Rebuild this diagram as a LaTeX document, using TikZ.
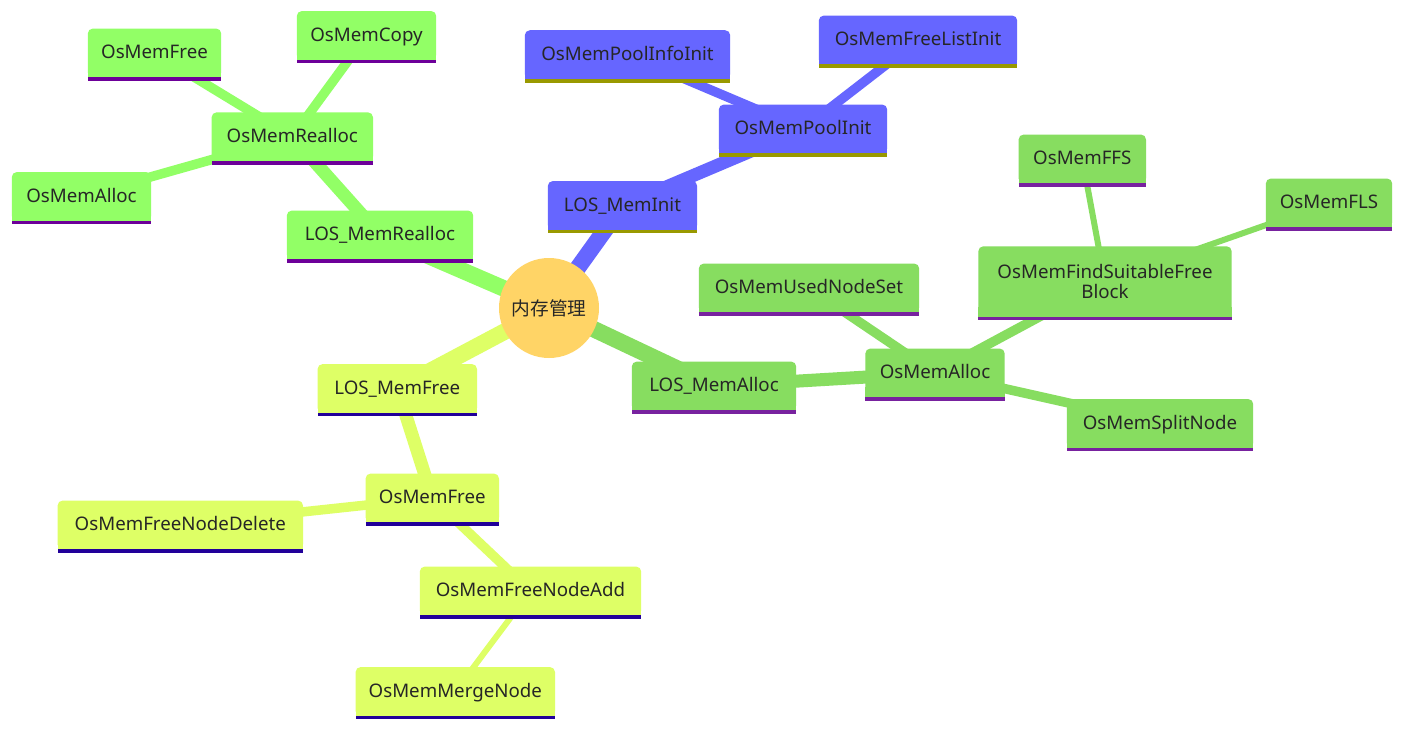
\documentclass[tikz,border=0pt]{standalone}
\usepackage{fontspec}
\setmainfont{Noto Sans}
\newfontfamily\cjkfont{Noto Sans CJK SC}
\definecolor{cBlue}{HTML}{6666FF}
\definecolor{bBlue}{HTML}{999900}
\definecolor{cLG}{HTML}{92FF66}
\definecolor{bLG}{HTML}{6D0099}
\definecolor{cDG}{HTML}{87DD60}
\definecolor{bDG}{HTML}{78229F}
\definecolor{cY}{HTML}{DEFF66}
\definecolor{bY}{HTML}{210099}
\definecolor{cRoot}{HTML}{FFD466}
\definecolor{txt}{HTML}{262626}
\pgfdeclarelayer{bglayer}
\pgfdeclarelayer{edgelayer}
\pgfdeclarelayer{filllayer}
\pgfsetlayers{bglayer,edgelayer,filllayer,main}
\newcommand\mmbox[3]{%
  \begin{pgfonlayer}{filllayer}
    \fill[#2, rounded corners=5pt] (#1.south west) rectangle (#1.north east);
    \fill[#2] (#1.south west) rectangle ([yshift=10pt]#1.south east);
    \fill[#3] (#1.south west) rectangle ([yshift=-3.5pt]#1.south east);
  \end{pgfonlayer}}
\tikzset{
  mm/.style={font=\fontsize{18.7}{20}\selectfont, text=txt, inner sep=0pt,
             align=center, text height=15pt, text depth=3.4pt, minimum height=48.5pt},
  mmtwo/.style={font=\fontsize{18.7}{19.5}\selectfont, text=txt, inner sep=0pt,
             align=center, minimum height=70pt},
  e1/.style={line width=16.5pt},
  e2/.style={line width=13pt},
  e3/.style={line width=9.5pt},
  e4/.style={line width=6pt}
}
\begin{document}
\begin{tikzpicture}[x=1pt,y=-1pt]
\begin{pgfonlayer}{bglayer}
\fill[white] (0,0) rectangle (1404,730);
\end{pgfonlayer}
\useasboundingbox (0,0) rectangle (1404,730);

% root
\node[circle, fill=cRoot, minimum size=100pt, inner sep=0pt, text=txt,
      font=\cjkfont\fontsize{18.7}{20}\selectfont] (root) at (549,308) {内存管理};

% blue section
\node[mm, minimum width=149pt] (lmi)   at (622.5,205.5) {LOS\_MemInit};
\node[mm, minimum width=168pt] (pinit) at (803,129)     {OsMemPoolInit};
\node[mm, minimum width=205pt] (pinfo) at (627.5,54.7)  {OsMemPoolInfoInit};
\node[mm, minimum width=198pt] (flist) at (918,40)      {OsMemFreeListInit};

% light green section
\node[mm, minimum width=186pt] (lre)     at (380,235)   {LOS\_MemRealloc};
\node[mm, minimum width=161pt] (ore)     at (292.3,136.8) {OsMemRealloc};
\node[mm, minimum width=133pt] (ofreeA)  at (154.5,53)  {OsMemFree};
\node[mm, minimum width=139pt] (ocopy)   at (366.5,35.5) {OsMemCopy};
\node[mm, minimum width=139pt] (oallocA) at (81.5,196.5) {OsMemAlloc};

% dark green section
\node[mm, minimum width=164pt] (lma)     at (714,386)   {LOS\_MemAlloc};
\node[mm, minimum width=139pt] (oallocB) at (935,373)   {OsMemAlloc};
\node[mm, minimum width=220pt] (used)    at (809,288)   {OsMemUsedNodeSet};
\node[mmtwo, minimum width=253pt] (fsfb) at (1105,281.5) {OsMemFindSuitableFree\\Block};
\node[mm, minimum width=127pt] (ffs)     at (1082.3,159) {OsMemFFS};
\node[mm, minimum width=126pt] (fls)     at (1329,203)  {OsMemFLS};
\node[mm, minimum width=186pt] (split)   at (1160,423.5) {OsMemSplitNode};

% yellow section
\node[mm, minimum width=159pt] (lmf)    at (397.3,388.5) {LOS\_MemFree};
\node[mm, minimum width=133pt] (ofreeB) at (432.3,498)   {OsMemFree};
\node[mm, minimum width=245pt] (fnd)    at (180.3,525)   {OsMemFreeNodeDelete};
\node[mm, minimum width=221pt] (fna)    at (530.5,591)   {OsMemFreeNodeAdd};
\node[mm, minimum width=199pt] (merge)  at (455.3,691.5) {OsMemMergeNode};

% boxes
\mmbox{lmi}{cBlue}{bBlue}
\mmbox{pinit}{cBlue}{bBlue}
\mmbox{pinfo}{cBlue}{bBlue}
\mmbox{flist}{cBlue}{bBlue}
\mmbox{lre}{cLG}{bLG}
\mmbox{ore}{cLG}{bLG}
\mmbox{ofreeA}{cLG}{bLG}
\mmbox{ocopy}{cLG}{bLG}
\mmbox{oallocA}{cLG}{bLG}
\mmbox{lma}{cDG}{bDG}
\mmbox{oallocB}{cDG}{bDG}
\mmbox{used}{cDG}{bDG}
\mmbox{fsfb}{cDG}{bDG}
\mmbox{ffs}{cDG}{bDG}
\mmbox{fls}{cDG}{bDG}
\mmbox{split}{cDG}{bDG}
\mmbox{lmf}{cY}{bY}
\mmbox{ofreeB}{cY}{bY}
\mmbox{fnd}{cY}{bY}
\mmbox{fna}{cY}{bY}
\mmbox{merge}{cY}{bY}

% edges
\begin{pgfonlayer}{edgelayer}
\draw[e1, cBlue] (root.center) -- (lmi.center);
\draw[e2, cBlue] (lmi.center) -- (pinit.center);
\draw[e3, cBlue] (pinit.center) -- (pinfo.center);
\draw[e3, cBlue] (pinit.center) -- (flist.center);

\draw[e1, cLG] (root.center) -- (lre.center);
\draw[e2, cLG] (lre.center) -- (ore.center);
\draw[e3, cLG] (ore.center) -- (ofreeA.center);
\draw[e3, cLG] (ore.center) -- (ocopy.center);
\draw[e3, cLG] (ore.center) -- (oallocA.center);

\draw[e1, cDG] (root.center) -- (lma.center);
\draw[e2, cDG] (lma.center) -- (oallocB.center);
\draw[e3, cDG] (oallocB.center) -- (used.center);
\draw[e3, cDG] (oallocB.center) -- (fsfb.center);
\draw[e3, cDG] (oallocB.center) -- (split.center);
\draw[e4, cDG] (fsfb.center) -- (ffs.center);
\draw[e4, cDG] (fsfb.center) -- (fls.center);

\draw[e1, cY] (root.center) -- (lmf.center);
\draw[e2, cY] (lmf.center) -- (ofreeB.center);
\draw[e3, cY] (ofreeB.center) -- (fnd.center);
\draw[e3, cY] (ofreeB.center) -- (fna.center);
\draw[e4, cY] (fna.center) -- (merge.center);
\end{pgfonlayer}
\end{tikzpicture}
\end{document}
